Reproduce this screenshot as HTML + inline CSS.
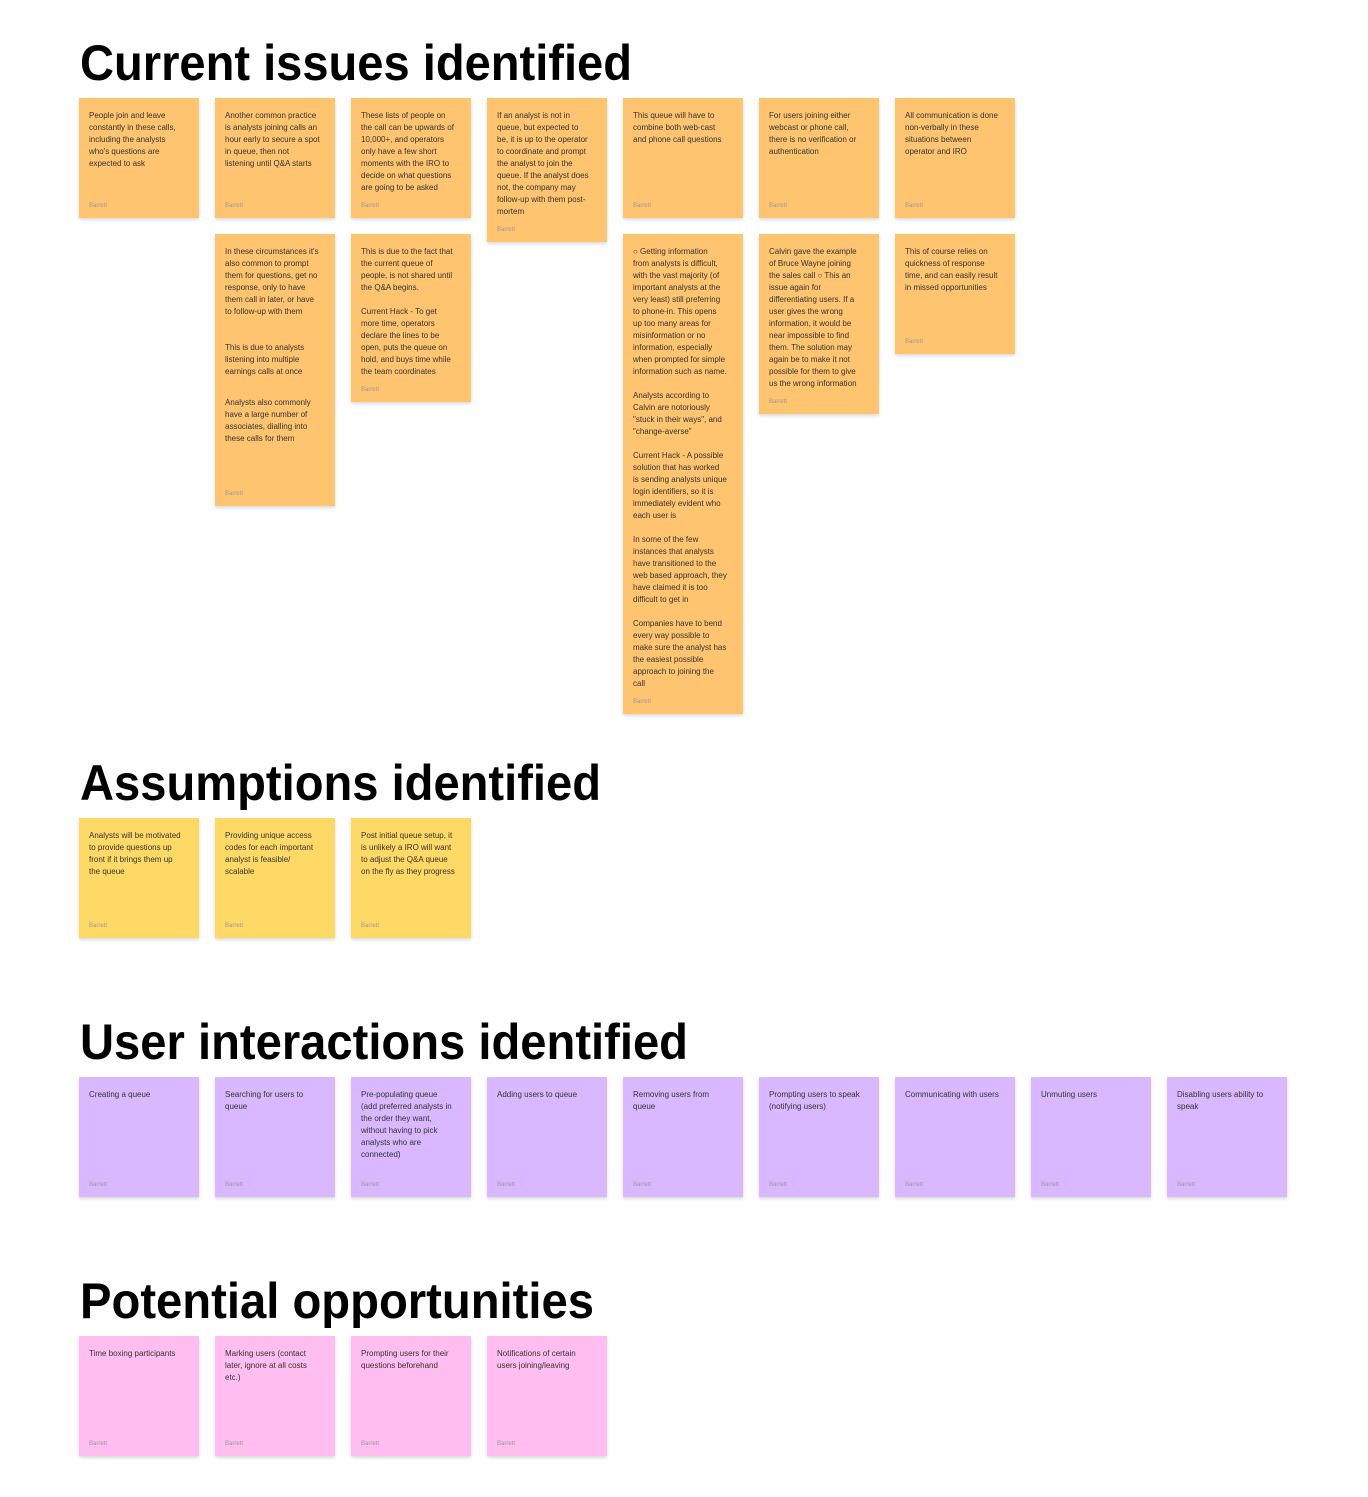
<!DOCTYPE html>
<html><head><meta charset="utf-8"><style>
body{margin:0;width:1368px;height:1497px;background:#fff;position:relative;overflow:hidden;font-family:"Liberation Sans",sans-serif}
.h{position:absolute;left:80px;margin:0}
.n{position:absolute;width:120px;box-shadow:0 2px 3px rgba(0,0,0,.15);box-sizing:border-box;padding:12px 8px 0 10px;font-size:8px;line-height:12px;color:#333}
.n .a{position:absolute;left:10px;bottom:6px;font-size:6px;color:#999}
.o{background:#FFC470}.y{background:#FFD966}.p{background:#D9B8FF}.k{background:#FFBDF0}
</style></head><body>
<svg class="h" style="top:30px" width="600" height="60"><text x="0" y="50" font-family="Liberation Sans" font-weight="bold" font-size="50" textLength="552" lengthAdjust="spacingAndGlyphs">Current issues identified</text></svg>
<svg class="h" style="top:750px" width="600" height="60"><text x="0" y="50" font-family="Liberation Sans" font-weight="bold" font-size="50" textLength="521" lengthAdjust="spacingAndGlyphs">Assumptions identified</text></svg>
<svg class="h" style="top:1009px" width="700" height="60"><text x="0" y="50" font-family="Liberation Sans" font-weight="bold" font-size="50" textLength="608" lengthAdjust="spacingAndGlyphs">User interactions identified</text></svg>
<svg class="h" style="top:1268px" width="600" height="60"><text x="0" y="50" font-family="Liberation Sans" font-weight="bold" font-size="50" textLength="514" lengthAdjust="spacingAndGlyphs">Potential opportunities</text></svg>

<div class="n o" style="left:79px;top:98px;height:120px">People join and leave<br>constantly in these calls,<br>including the analysts<br>who's questions are<br>expected to ask<span class="a">Barrett</span></div>
<div class="n o" style="left:215px;top:98px;height:120px">Another common practice<br>is analysts joining calls an<br>hour early to secure a spot<br>in queue, then not<br>listening until Q&amp;A starts<span class="a">Barrett</span></div>
<div class="n o" style="left:351px;top:98px;height:120px">These lists of people on<br>the call can be upwards of<br>10,000+, and operators<br>only have a few short<br>moments with the IRO to<br>decide on what questions<br>are going to be asked<span class="a">Barrett</span></div>
<div class="n o" style="left:487px;top:98px;height:144px">If an analyst is not in<br>queue, but expected to<br>be, it is up to the operator<br>to coordinate and prompt<br>the analyst to join the<br>queue. If the analyst does<br>not, the company may<br>follow-up with them post-<br>mortem<span class="a">Barrett</span></div>
<div class="n o" style="left:623px;top:98px;height:120px">This queue will have to<br>combine both web-cast<br>and phone call questions<span class="a">Barrett</span></div>
<div class="n o" style="left:759px;top:98px;height:120px">For users joining either<br>webcast or phone call,<br>there is no verification or<br>authentication<span class="a">Barrett</span></div>
<div class="n o" style="left:895px;top:98px;height:120px">All communication is done<br>non-verbally in these<br>situations between<br>operator and IRO<span class="a">Barrett</span></div>

<div class="n o" style="left:215px;top:234px;height:272px">In these circumstances it's<br>also common to prompt<br>them for questions, get no<br>response, only to have<br>them call in later, or have<br>to follow-up with them<br><br><br>This is due to analysts<br>listening into multiple<br>earnings calls at once<div style="height:19px"></div>Analysts also commonly<br>have a large number of<br>associates, dialling into<br>these calls for them<span class="a">Barrett</span></div>
<div class="n o" style="left:351px;top:234px;height:168px">This is due to the fact that<br>the current queue of<br>people, is not shared until<br>the Q&amp;A begins.<br><br>Current Hack - To get<br>more time, operators<br>declare the lines to be<br>open, puts the queue on<br>hold, and buys time while<br>the team coordinates<span class="a">Barrett</span></div>
<div class="n o" style="left:623px;top:234px;height:480px">○ Getting information<br>from analysts is difficult,<br>with the vast majority (of<br>important analysts at the<br>very least) still preferring<br>to phone-in. This opens<br>up too many areas for<br>misinformation or no<br>information, especially<br>when prompted for simple<br>information such as name.<br><br>Analysts according to<br>Calvin are notoriously<br>"stuck in their ways", and<br>"change-averse"<br><br>Current Hack - A possible<br>solution that has worked<br>is sending analysts unique<br>login identifiers, so it is<br>immediately evident who<br>each user is<br><br>In some of the few<br>instances that analysts<br>have transitioned to the<br>web based approach, they<br>have claimed it is too<br>difficult to get in<br><br>Companies have to bend<br>every way possible to<br>make sure the analyst has<br>the easiest possible<br>approach to joining the<br>call<span class="a">Barrett</span></div>
<div class="n o" style="left:759px;top:234px;height:180px">Calvin gave the example<br>of Bruce Wayne joining<br>the sales call ○ This an<br>issue again for<br>differentiating users. If a<br>user gives the wrong<br>information, it would be<br>near impossible to find<br>them. The solution may<br>again be to make it not<br>possible for them to give<br>us the wrong information<span class="a">Barrett</span></div>
<div class="n o" style="left:895px;top:234px;height:120px">This of course relies on<br>quickness of response<br>time, and can easily result<br>in missed opportunities<span class="a">Barrett</span></div>

<div class="n y" style="left:79px;top:818px;height:120px">Analysts will be motivated<br>to provide questions up<br>front if it brings them up<br>the queue<span class="a">Barrett</span></div>
<div class="n y" style="left:215px;top:818px;height:120px">Providing unique access<br>codes for each important<br>analyst is feasible/<br>scalable<span class="a">Barrett</span></div>
<div class="n y" style="left:351px;top:818px;height:120px">Post initial queue setup, it<br>is unlikely a IRO will want<br>to adjust the Q&amp;A queue<br>on the fly as they progress<span class="a">Barrett</span></div>

<div class="n p" style="left:79px;top:1077px;height:120px">Creating a queue<span class="a">Barrett</span></div>
<div class="n p" style="left:215px;top:1077px;height:120px">Searching for users to<br>queue<span class="a">Barrett</span></div>
<div class="n p" style="left:351px;top:1077px;height:120px">Pre-populating queue<br>(add preferred analysts in<br>the order they want,<br>without having to pick<br>analysts who are<br>connected)<span class="a">Barrett</span></div>
<div class="n p" style="left:487px;top:1077px;height:120px">Adding users to queue<span class="a">Barrett</span></div>
<div class="n p" style="left:623px;top:1077px;height:120px">Removing users from<br>queue<span class="a">Barrett</span></div>
<div class="n p" style="left:759px;top:1077px;height:120px">Prompting users to speak<br>(notifying users)<span class="a">Barrett</span></div>
<div class="n p" style="left:895px;top:1077px;height:120px">Communicating with users<span class="a">Barrett</span></div>
<div class="n p" style="left:1031px;top:1077px;height:120px">Unmuting users<span class="a">Barrett</span></div>
<div class="n p" style="left:1167px;top:1077px;height:120px">Disabling users ability to<br>speak<span class="a">Barrett</span></div>

<div class="n k" style="left:79px;top:1336px;height:120px">Time boxing participants<span class="a">Barrett</span></div>
<div class="n k" style="left:215px;top:1336px;height:120px">Marking users (contact<br>later, ignore at all costs<br>etc.)<span class="a">Barrett</span></div>
<div class="n k" style="left:351px;top:1336px;height:120px">Prompting users for their<br>questions beforehand<span class="a">Barrett</span></div>
<div class="n k" style="left:487px;top:1336px;height:120px">Notifications of certain<br>users joining/leaving<span class="a">Barrett</span></div>
</body></html>
